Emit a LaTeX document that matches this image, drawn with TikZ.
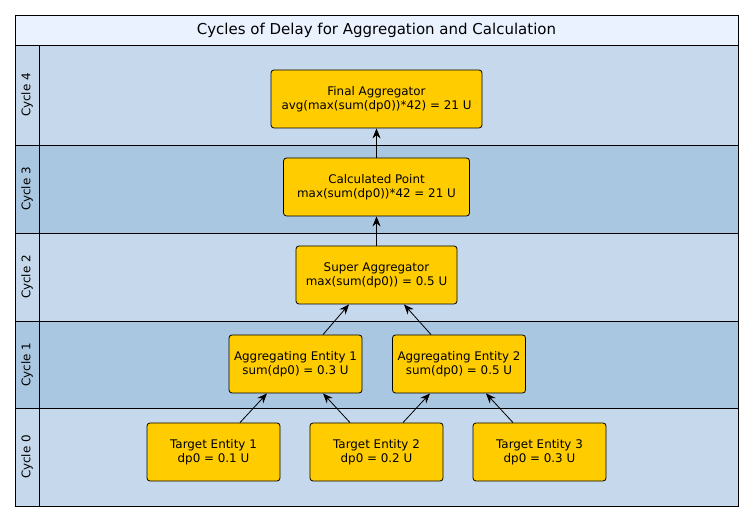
\documentclass[tikz,border=0pt]{standalone}
\usepackage{fontspec}
\setmainfont{DejaVu Sans}
\usetikzlibrary{arrows.meta}
\definecolor{hdr}{HTML}{EBF2FF}
\definecolor{laneA}{HTML}{C5D8EC}
\definecolor{laneB}{HTML}{A9C7E1}
\definecolor{boxy}{HTML}{FFCC00}
\tikzset{
  ent/.style={draw=black, fill=boxy, rounded corners=3pt, line width=0.8pt, align=center, font=\fontsize{11.9}{13.8}\selectfont, inner sep=0pt},
  lanelbl/.style={rotate=90, font=\fontsize{11.9}{13.8}\selectfont},
  conn/.style={-{Stealth[length=10pt,width=8pt]}, line width=0.8pt}
}
\begin{document}
\begin{tikzpicture}[x=1pt,y=-1pt]
\useasboundingbox (0,0) rectangle (753,521);
% header
\fill[hdr] (15,15) rectangle (738,45);
\node[font=\fontsize{15}{17}\selectfont] (title) at (376.5,30.5) {Cycles of Delay for Aggregation and Calculation};
% lanes
\fill[laneA] (15,45) rectangle (738,145);
\fill[laneB] (15,145) rectangle (738,233);
\fill[laneA] (15,233) rectangle (738,321);
\fill[laneB] (15,321) rectangle (738,408);
\fill[laneA] (15,408) rectangle (738,506);
\draw[line width=0.8pt] (15,45) -- (738,45) (15,145) -- (738,145) (15,233) -- (738,233) (15,321) -- (738,321) (15,408) -- (738,408);
\draw[line width=0.8pt] (39,45) -- (39,506);
\draw[line width=0.8pt] (15,15) rectangle (738,506);
\node[lanelbl] (l4) at (27,95) {Cycle 4};
\node[lanelbl] (l3) at (27,189) {Cycle 3};
\node[lanelbl] (l2) at (27,277) {Cycle 2};
\node[lanelbl] (l1) at (27,364.5) {Cycle 1};
\node[lanelbl] (l0) at (27,457) {Cycle 0};
% boxes
\node[ent, minimum width=211pt, minimum height=58pt] (fa) at (376.5,99) {Final Aggregator\\avg(max(sum(dp0))*42) = 21 U};
\node[ent, minimum width=186pt, minimum height=58pt] (cp) at (376.5,187) {Calculated Point\\max(sum(dp0))*42 = 21 U};
\node[ent, minimum width=161pt, minimum height=58pt] (sa) at (376.5,275) {Super Aggregator\\max(sum(dp0)) = 0.5 U};
\node[ent, minimum width=133pt, minimum height=58pt] (ae1) at (295.5,364) {Aggregating Entity 1\\sum(dp0) = 0.3 U};
\node[ent, minimum width=133pt, minimum height=58pt] (ae2) at (459,364) {Aggregating Entity 2\\sum(dp0) = 0.5 U};
\node[ent, minimum width=133pt, minimum height=58pt] (te1) at (213.5,452) {Target Entity 1\\dp0 = 0.1 U};
\node[ent, minimum width=133pt, minimum height=58pt] (te2) at (376.5,452) {Target Entity 2\\dp0 = 0.2 U};
\node[ent, minimum width=133pt, minimum height=58pt] (te3) at (539.5,452) {Target Entity 3\\dp0 = 0.3 U};
% connectors
\draw[conn] ([xshift=26.5pt]te1.north) -- ([xshift=-28.5pt]ae1.south);
\draw[conn] ([xshift=-26.5pt]te2.north) -- ([xshift=27.5pt]ae1.south);
\draw[conn] ([xshift=26.5pt]te2.north) -- ([xshift=-29pt]ae2.south);
\draw[conn] ([xshift=-26.5pt]te3.north) -- ([xshift=27pt]ae2.south);
\draw[conn] ([xshift=27.5pt]ae1.north) -- ([xshift=-27.5pt]sa.south);
\draw[conn] ([xshift=-28pt]ae2.north) -- ([xshift=27.5pt]sa.south);
\draw[conn] (sa.north) -- (cp.south);
\draw[conn] (cp.north) -- (fa.south);
\end{tikzpicture}
\end{document}
